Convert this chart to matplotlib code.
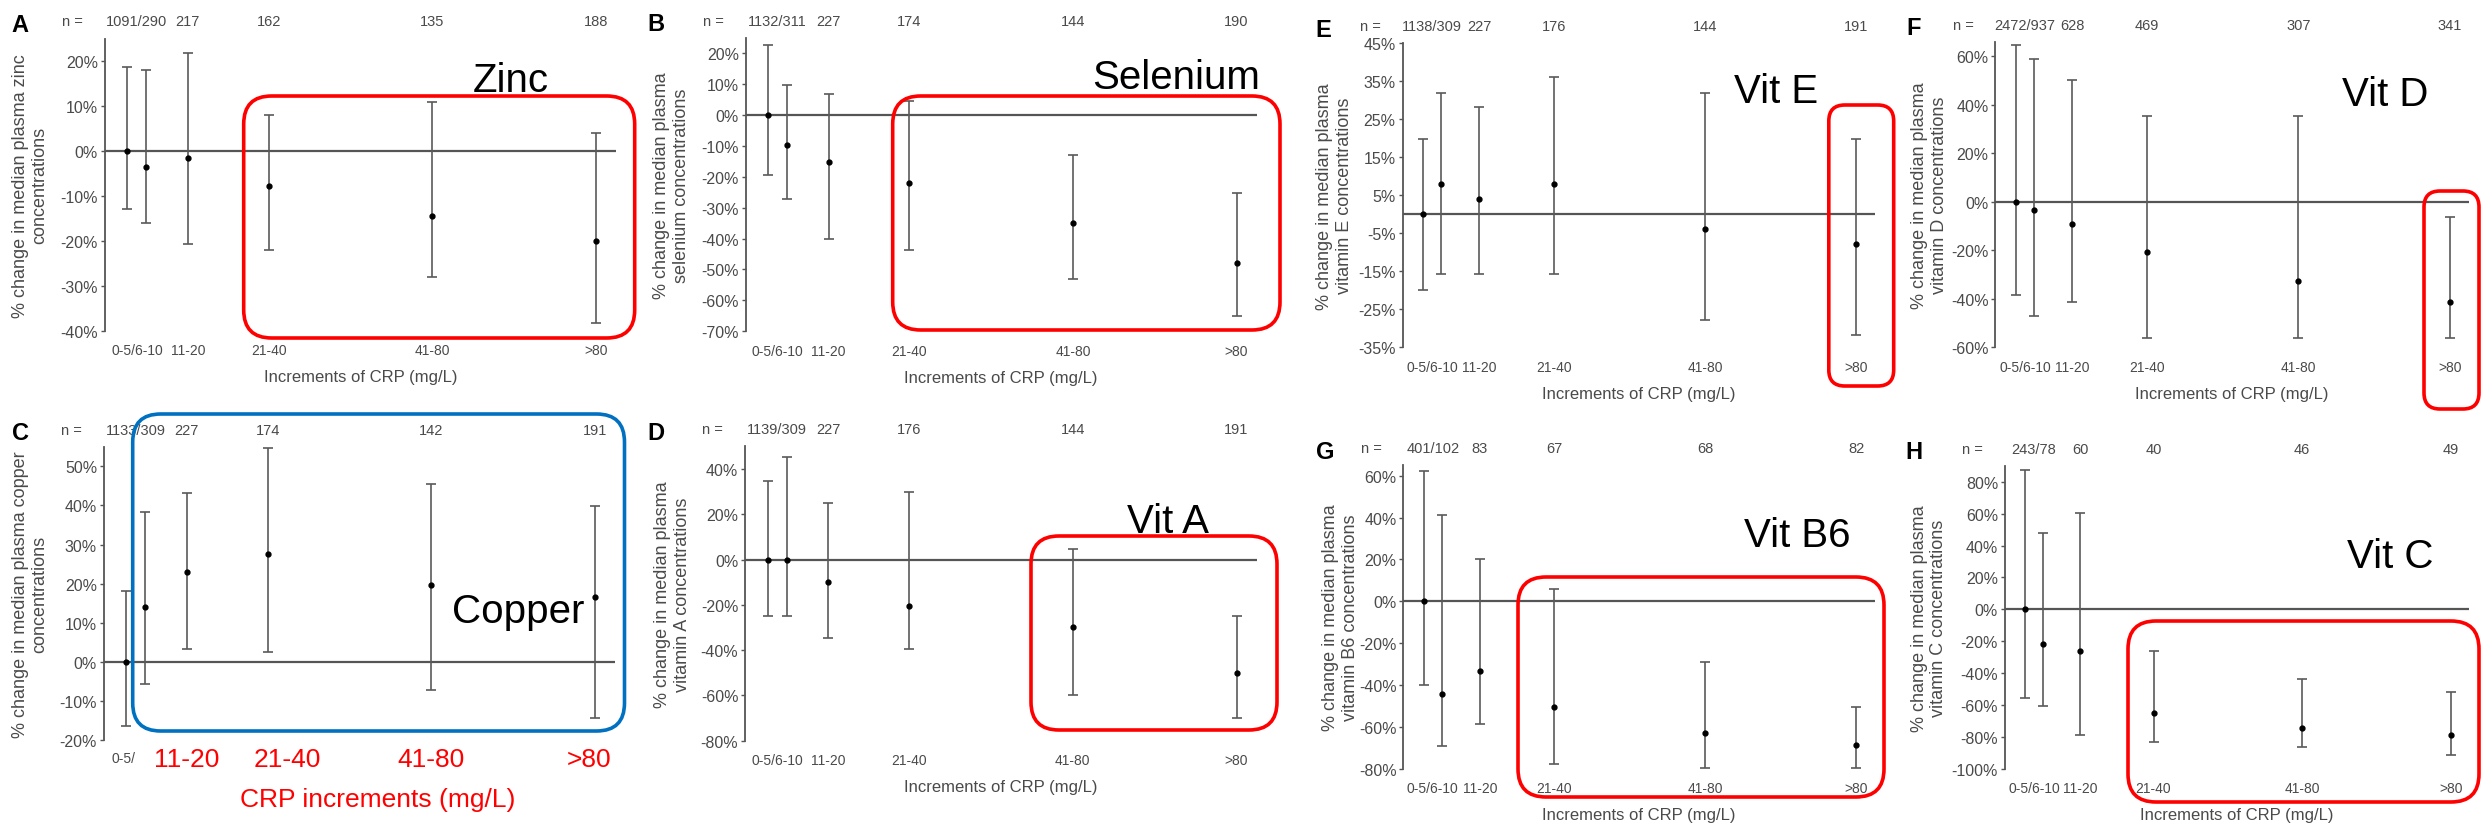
"""
Percent change in plasma micronutrients by CRP increment (8 panels)
"""
import matplotlib
matplotlib.use('Agg')
import matplotlib.pyplot as plt
from matplotlib import font_manager
from matplotlib.patches import FancyBboxPatch
import numpy as np

W, H, DPI = 2483, 829, 100
PT = 72 / DPI          # points per pixel
GRAY = '#4a4a4a'

# CRP groups: x position ~ group midpoint (mg/L)
x_pos = [4.6, 8.1, 15.7, 30.5, 60.5, 90.5]
tick_labels = ['0-5/6-10', '11-20', '21-40', '41-80', '>80']

# median % change, lower and upper bound, per CRP group
zinc_mid = [0, -3.6, -1.6, -7.7, -14.4, -19.9]
zinc_lo = [-12.9, -15.9, -20.7, -21.9, -28.1, -38.3]
zinc_hi = [18.7, 17.9, 21.8, 8.0, 11.0, 4.0]

selenium_mid = [0, -9.9, -15.2, -22.0, -34.9, -47.8]
selenium_lo = [-19.6, -27.2, -40.1, -43.8, -53.0, -65.2]
selenium_hi = [22.7, 9.7, 6.6, 4.6, -12.9, -25.2]

copper_mid = [0, 14.0, 22.9, 27.7, 19.7, 16.5]
copper_lo = [-16.5, -5.7, 3.2, 2.6, -7.2, -14.5]
copper_hi = [18.0, 38.4, 43.3, 54.6, 45.6, 39.8]

vita_mid = [0, 0, -9.7, -20.3, -29.9, -50.0]
vita_lo = [-25.0, -25.0, -34.7, -39.4, -59.7, -70.0]
vita_hi = [34.9, 45.1, 24.9, 29.7, 4.7, -25.0]

vite_mid = [0, 7.9, 4.1, 7.9, -3.8, -7.9]
vite_lo = [-19.8, -15.8, -15.8, -15.8, -27.8, -31.8]
vite_hi = [19.9, 31.9, 28.2, 36.1, 31.9, 19.9]

vitd_mid = [0, -3.2, -9.1, -20.8, -32.6, -41.5]
vitd_lo = [-38.6, -47.3, -41.4, -56.3, -56.3, -56.3]
vitd_hi = [64.8, 58.9, 50.2, 35.2, 35.2, -6.2]

vitb6_mid = [0, -44.3, -33.4, -50.3, -62.6, -68.6]
vitb6_lo = [-40.0, -69.0, -58.3, -77.4, -79.6, -79.6]
vitb6_hi = [62.1, 41.4, 20.2, 5.9, -29.1, -50.6]

vitc_mid = [0, -21.5, -26.0, -65.2, -74.2, -78.8]
vitc_lo = [-55.8, -60.6, -78.8, -82.9, -86.5, -91.3]
vitc_hi = [87.3, 47.9, 60.2, -26.0, -43.8, -51.7]

# sample sizes (first two groups shown together)
zinc_n = ['1091/290', '217', '162', '135', '188']
selenium_n = ['1132/311', '227', '174', '144', '190']
copper_n = ['1133/309', '227', '174', '142', '191']
vita_n = ['1139/309', '227', '176', '144', '191']
vite_n = ['1138/309', '227', '176', '144', '191']
vitd_n = ['2472/937', '628', '469', '307', '341']
vitb6_n = ['401/102', '83', '67', '68', '82']
vitc_n = ['243/78', '60', '40', '46', '49']

ylabels = {
    'A': '% change in median plasma zinc\nconcentrations',
    'B': '% change in median plasma\nselenium concentrations',
    'C': '% change in median plasma copper\nconcentrations',
    'D': '% change in median plasma\nvitamin A concentrations',
    'E': '% change in median plasma\nvitamin E concentrations',
    'F': '% change in median plasma\nvitamin D concentrations',
    'G': '% change in median plasma\nvitamin B6 concentrations',
    'H': '% change in median plasma\nvitamin C concentrations',
}

series = {
    'A': (zinc_mid, zinc_lo, zinc_hi, zinc_n),
    'B': (selenium_mid, selenium_lo, selenium_hi, selenium_n),
    'C': (copper_mid, copper_lo, copper_hi, copper_n),
    'D': (vita_mid, vita_lo, vita_hi, vita_n),
    'E': (vite_mid, vite_lo, vite_hi, vite_n),
    'F': (vitd_mid, vitd_lo, vitd_hi, vitd_n),
    'G': (vitb6_mid, vitb6_lo, vitb6_hi, vitb6_n),
    'H': (vitc_mid, vitc_lo, vitc_hi, vitc_n),
}

# layout: axes rect in pixels (x0, ytop, x1, ybottom), ylim, tick step,
# ylabel offset and letter offset from the spine (px)
panels = [
    ('A', (105, 39.5, 616, 332), (-40, 25), 10, -75, -85),
    ('B', (745.7, 38.5, 1256.7, 332.3), (-70, 25), 10, -74, -90),
    ('E', (1402.6, 44.3, 1875, 348.3), (-35, 45), 10, -68, -79),
    ('F', (1995.4, 42.7, 2468.5, 348.3), (-60, 66), 20, -66, -82),
    ('C', (104, 447.8, 615, 741), (-20, 55), 10, -74, -84),
    ('D', (745.3, 447.4, 1256.7, 741.7), (-80, 50), 20, -73, -89),
    ('G', (1403.4, 466.2, 1875, 770), (-80, 65), 20, -63, -78),
    ('H', (2005, 466.7, 2469, 770), (-100, 90), 20, -76, -91),
]

# highlight labels (text, centre x px, baseline y px) and boxes (px, colour, radius)
big_labels = [('Zinc', 511, 92), ('Selenium', 1176, 89), ('Vit E', 1776, 103),
              ('Vit D', 2385, 106), ('Copper', 518, 623), ('Vit A', 1168, 533),
              ('Vit B6', 1797, 547), ('Vit C', 2390, 568)]
boxes = [((243.7, 97, 634.7, 339), 'red', 28), ((892.7, 97, 1280, 331), 'red', 28),
         ((1828.8, 106, 1893.7, 387), 'red', 16), ((2424, 192, 2479, 410), 'red', 16),
         ((132.7, 415, 624.5, 732), '#0070c0', 28), ((1031, 537, 1277, 731), 'red', 28),
         ((1518, 578, 1884, 798), 'red', 28), ((2128, 622, 2479, 803), 'red', 28)]

names = {f.name for f in font_manager.fontManager.ttflist}
narrow = 'Liberation Sans Narrow' if 'Liberation Sans Narrow' in names else 'Liberation Sans'
plt.rcParams['font.family'] = ['Liberation Sans', 'DejaVu Sans']

tick_x = [(x_pos[0] + x_pos[1]) / 2] + x_pos[2:]

fig = plt.figure(figsize=(W / DPI, H / DPI), dpi=DPI)
fig.patch.set_facecolor('white')

for key, (x0, y0, x1, y1), ylim, ystep, ylab_dx, let_dx in panels:
    mid, lo, hi, counts = series[key]
    ax = fig.add_axes([x0 / W, 1 - y1 / H, (x1 - x0) / W, (y1 - y0) / H])
    ax.axhline(0, color='#555555', lw=1.6, zorder=1)
    ax.errorbar(x_pos, mid, yerr=[np.subtract(mid, lo), np.subtract(hi, mid)],
                fmt='o', ms=3.5, color='black', ecolor='#5a5a5a',
                elinewidth=1.2, capsize=3.5, capthick=1.2, zorder=3)
    ax.set_xlim(0.5, 94.2)
    ax.set_ylim(*ylim)
    yt = np.arange(ylim[0], ylim[1] + 0.1, ystep) if key != 'F' else np.arange(-60, 61, 20)
    ax.set_yticks(yt, [f'{int(v)}%' for v in yt])
    for s in ['top', 'right', 'bottom']:
        ax.spines[s].set_visible(False)
    ax.spines['left'].set_color('#555555')
    ax.spines['left'].set_linewidth(1.3)
    ax.tick_params(axis='y', length=3, width=1, color='#555555', labelsize=11.5,
                   labelcolor=GRAY, pad=2)
    ax.set_facecolor('none')

    if key == 'C':
        ax.set_xticks([])
        ax.annotate('0-5/', xy=(x_pos[0], 0), xycoords=ax.get_xaxis_transform(),
                    xytext=(-3 * PT, -18 * PT), textcoords='offset points',
                    ha='center', va='center', fontsize=10, color=GRAY)
        shifts = [0, 20, 0, -6]
        for tx, lab, dx in zip(tick_x[1:], tick_labels[1:], shifts):
            ax.annotate(lab, xy=(tx, 0), xycoords=ax.get_xaxis_transform(),
                        xytext=(dx * PT, -19 * PT), textcoords='offset points',
                        ha='center', va='center', fontsize=22 if narrow != 'Liberation Sans' else 19,
                        color='red', family=[narrow, 'DejaVu Sans'])
        ax.annotate('CRP increments (mg/L)', xy=(0.5, 0), xycoords='axes fraction',
                    xytext=(18 * PT, -59 * PT), textcoords='offset points',
                    ha='center', va='center', fontsize=19, color='red')
    else:
        ax.set_xticks(tick_x, tick_labels)
        ax.tick_params(axis='x', length=0, pad=9, labelsize=10, labelcolor=GRAY)
        ax.annotate('Increments of CRP (mg/L)', xy=(0.5, 0), xycoords='axes fraction',
                    xytext=(0, -46 * PT), textcoords='offset points',
                    ha='center', va='center', fontsize=12, color=GRAY)

    # sample sizes row
    for tx, c in zip(tick_x, counts):
        ax.annotate(c, xy=(tx, 1), xycoords=ax.get_xaxis_transform(),
                    xytext=(0, 17 * PT), textcoords='offset points',
                    ha='center', va='center', fontsize=10.5, color=GRAY)
    ax.annotate('n =', xy=(0, 1), xycoords='axes fraction',
                xytext=(-22 * PT, 17 * PT), textcoords='offset points',
                ha='right', va='center', fontsize=10.5, color=GRAY)
    ax.annotate(key, xy=(0, 1), xycoords='axes fraction',
                xytext=(let_dx * PT, 14 * PT), textcoords='offset points',
                ha='center', va='center', fontsize=17, fontweight='bold', color='black')
    ax.annotate(ylabels[key], xy=(0, 0.5), xycoords='axes fraction',
                xytext=(ylab_dx * PT, 0), textcoords='offset points',
                ha='center', va='center', rotation=90, fontsize=13,
                linespacing=1.2, multialignment='center', color=GRAY)

for (bx0, by0, bx1, by1), col, r in boxes:
    fig.add_artist(FancyBboxPatch((bx0 / DPI, (H - by1) / DPI), (bx1 - bx0) / DPI,
                                  (by1 - by0) / DPI,
                                  boxstyle=f'round,pad=0,rounding_size={r / DPI}',
                                  transform=fig.dpi_scale_trans, fill=False,
                                  ec=col, lw=2.6, zorder=5))

for txt, cx, base in big_labels:
    fig.text(cx / W, 1 - base / H, txt, ha='center', va='baseline',
             fontsize=29, color='black', zorder=6)

fig.savefig('out.png', dpi=DPI, facecolor='white')
